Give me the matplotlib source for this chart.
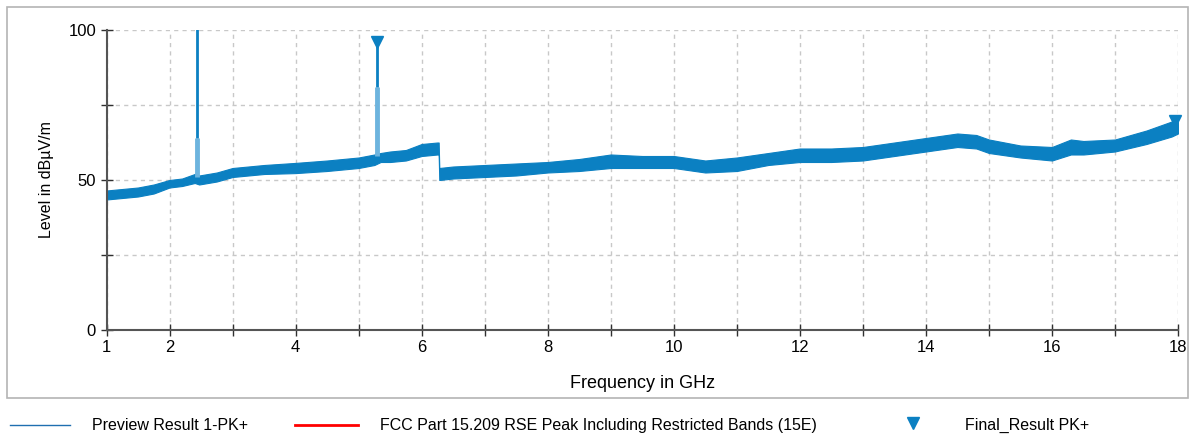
import matplotlib
matplotlib.use("Agg")
import matplotlib.pyplot as plt
from matplotlib.lines import Line2D
from matplotlib.patches import Rectangle

plt.rcParams["font.family"] = ["Liberation Sans", "DejaVu Sans"]

# preview trace, read as a noise band (lower / upper edge) in dBµV/m
FREQ = [1.00, 1.25, 1.50, 1.75, 2.00, 2.20, 2.40, 2.47, 2.75, 3.00, 3.25, 3.50,
        4.00, 4.50, 5.00, 5.25, 5.35, 5.50, 5.75, 6.00, 6.25, 6.27, 6.28, 6.50,
        7.00, 7.50, 8.00, 8.50, 9.00, 9.50, 10.0, 10.5, 11.0, 11.5, 12.0, 12.5,
        13.0, 13.5, 14.0, 14.5, 14.8, 15.0, 15.5, 16.0, 16.3, 16.5, 17.0, 17.5,
        17.9, 18.0]
LOW = [43.5, 44.0, 44.5, 45.5, 47.5, 48.0, 49.0, 48.5, 49.5, 51.0, 51.5, 52.0,
       52.3, 53.0, 54.0, 55.0, 56.0, 56.0, 56.5, 58.0, 58.5, 58.5, 50.0, 50.5,
       51.0, 51.5, 52.5, 53.0, 54.0, 54.0, 54.0, 52.5, 53.0, 55.0, 56.0, 56.0,
       56.5, 58.0, 59.5, 61.0, 60.5, 59.0, 57.5, 56.5, 58.5, 58.5, 59.5, 62.0,
       64.5, 65.5]
HIGH = [46.5, 47.0, 47.5, 48.5, 50.0, 50.5, 52.0, 51.5, 52.5, 54.0, 54.5, 55.0,
        55.7, 56.5, 57.5, 58.5, 59.0, 59.5, 60.0, 62.0, 62.5, 62.5, 54.0, 54.5,
        55.0, 55.5, 56.0, 57.0, 58.5, 58.0, 58.0, 56.5, 57.5, 59.0, 60.5, 60.5,
        61.0, 62.5, 64.0, 65.5, 65.0, 63.5, 61.5, 61.0, 63.5, 63.0, 63.5, 66.5,
        69.5, 70.0]

# narrow carriers
SPIKE_FREQ = [2.44, 5.29]
SPIKE_BASE = [51.0, 58.0]
SPIKE_KNEE = [64.0, 81.0]
SPIKE_PEAK = [101.0, 96.0]

# final result markers
FINAL_FREQ = [5.29, 17.95]
FINAL_LEVEL = [96.0, 69.5]

XTICKS = [1, 2, 4, 6, 8, 10, 12, 14, 16, 18]
YTICKS = [0, 50, 100]

BLUE = "#0b80c2"
LIGHT = "#6db4de"

fig = plt.figure(figsize=(11.97, 4.36), dpi=100)
fig.add_artist(Rectangle((7 / 1197, 1 - 398 / 436), 1181 / 1197, 391 / 436,
                         transform=fig.transFigure, fill=False,
                         edgecolor="#b4b4b4", linewidth=1.2))

ax = fig.add_axes([106.5 / 1197, 1 - 330 / 436, 1071.5 / 1197, 300 / 436])

ax.fill_between(FREQ, LOW, HIGH, color=BLUE, linewidth=0.8, edgecolor=BLUE)
ax.vlines(SPIKE_FREQ, SPIKE_BASE, SPIKE_KNEE, color=LIGHT, linewidth=3.5)
ax.vlines(SPIKE_FREQ, SPIKE_KNEE, SPIKE_PEAK, color=BLUE, linewidth=2)
ax.plot(FINAL_FREQ, FINAL_LEVEL, linestyle="none", marker="v", markersize=9,
        color=BLUE, clip_on=False, zorder=5)

ax.set_xlim(1, 18)
ax.set_ylim(0, 100)
ax.set_xticks(range(1, 19), minor=True)
ax.set_xticks(XTICKS)
ax.set_yticks(range(0, 101, 25), minor=True)
ax.set_yticks(YTICKS)
ax.tick_params(which="both", direction="inout", length=8, width=1,
               color="#303030", labelsize=12)
ax.grid(True, which="both", linestyle=(0, (3, 3)), color="#c8c8c8", linewidth=1)
ax.set_axisbelow(True)
for side in ("top", "right"):
    ax.spines[side].set_visible(False)
for side in ("left", "bottom"):
    ax.spines[side].set_color("#555555")
    ax.spines[side].set_linewidth(1.5)

ax.set_xlabel("Frequency in GHz", fontsize=13, labelpad=14)
ax.set_ylabel("Level in dBµV/m", fontsize=11.5, labelpad=10)

# legend below the frame
ly = 1 - 425 / 436
fig.add_artist(Line2D([10 / 1197, 70 / 1197], [ly, ly], transform=fig.transFigure,
                      color="#1f6fb0", linewidth=1))
fig.text(92 / 1197, ly, "Preview Result 1-PK+", va="center", fontsize=11.5)
fig.add_artist(Line2D([295 / 1197, 358 / 1197], [ly, ly], transform=fig.transFigure,
                      color="red", linewidth=2))
fig.text(380 / 1197, ly, "FCC Part 15.209 RSE Peak Including Restricted Bands (15E)",
         va="center", fontsize=11.5)
fig.add_artist(Line2D([913 / 1197], [ly + 0.004], transform=fig.transFigure,
                      marker="v", markersize=8, color=BLUE, linestyle="none"))
fig.text(965 / 1197, ly, "Final_Result PK+", va="center", fontsize=11.5)

fig.savefig("out.png", dpi=100)
